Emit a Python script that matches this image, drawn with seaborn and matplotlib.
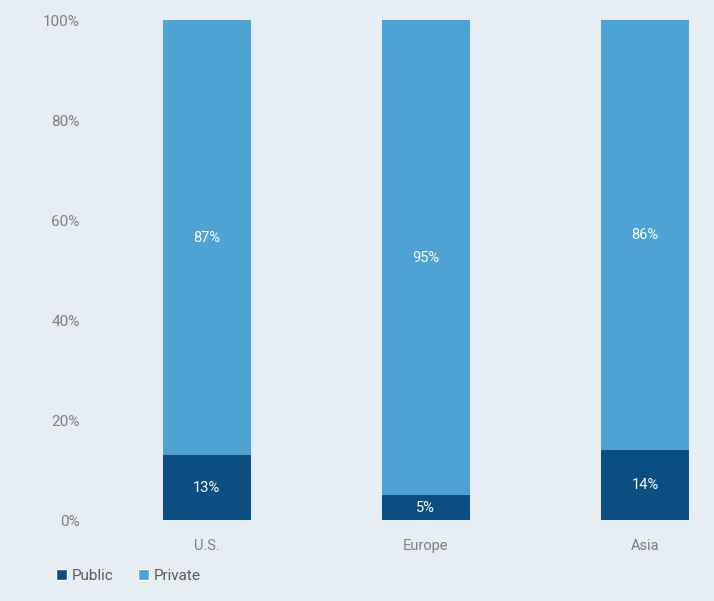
import matplotlib
matplotlib.use("Agg")
import matplotlib.pyplot as plt
import seaborn as sns
import pandas as pd
from matplotlib.patches import Patch

regions = ["U.S.", "Europe", "Asia"]
public = [13, 5, 14]
private = [87, 95, 86]
yticks = [0, 20, 40, 60, 80, 100]
ytick_labels = ["0%", "20%", "40%", "60%", "80%", "100%"]

bg = "#e6eef3"
c_public = "#0b4f82"
c_private = "#4fa3d4"
tick_color = "#7a7f84"

sns.set_theme(style="white")
plt.rcParams['font.family'] = ['Roboto', 'DejaVu Sans']

fig = plt.figure(figsize=(7.14, 6.01), dpi=100, facecolor=bg)
ax = fig.add_axes([95/714, 81/601, 619/714, 500/601])
ax.set_facecolor(bg)

df = pd.DataFrame({"region": regions, "public": public, "private": private})
df["total"] = df["public"] + df["private"]

sns.barplot(data=df, x="region", y="total", color=c_private, width=0.4,
            saturation=1, ax=ax, linewidth=0)
sns.barplot(data=df, x="region", y="public", color=c_public, width=0.4,
            saturation=1, ax=ax, linewidth=0)

for i, (pu, pr) in enumerate(zip(public, private)):
    ax.text(i, pu / 2, f"{pu}%", ha="center", va="center", color="white", fontsize=10.5)
    ax.text(i, pu + pr / 2, f"{pr}%", ha="center", va="center", color="white", fontsize=10.5)

ax.set_xlim(-0.51, 2.315)
ax.set_ylim(0, 100)
ax.set_yticks(yticks)
ax.set_yticklabels(ytick_labels, color=tick_color, fontsize=11)
ax.tick_params(axis="y", length=0, pad=11)
ax.tick_params(axis="x", length=0, pad=14, colors=tick_color, labelsize=10.5)
ax.set_xlabel("")
ax.set_ylabel("")
for s in ax.spines.values():
    s.set_visible(False)
ax.axhline(0, color="#cfd8de", linewidth=1, zorder=0)

handles = [Patch(facecolor=c_public, label="Public"), Patch(facecolor=c_private, label="Private")]
fig.legend(handles=handles, loc="center left", bbox_to_anchor=(42/714, 1 - 576/601),
           ncol=2, frameon=False, handlelength=0.75, handleheight=0.75,
           handletextpad=0.3, columnspacing=1.6, fontsize=11, labelcolor="#555a5f")

fig.savefig("out.png", dpi=100, facecolor=bg)
